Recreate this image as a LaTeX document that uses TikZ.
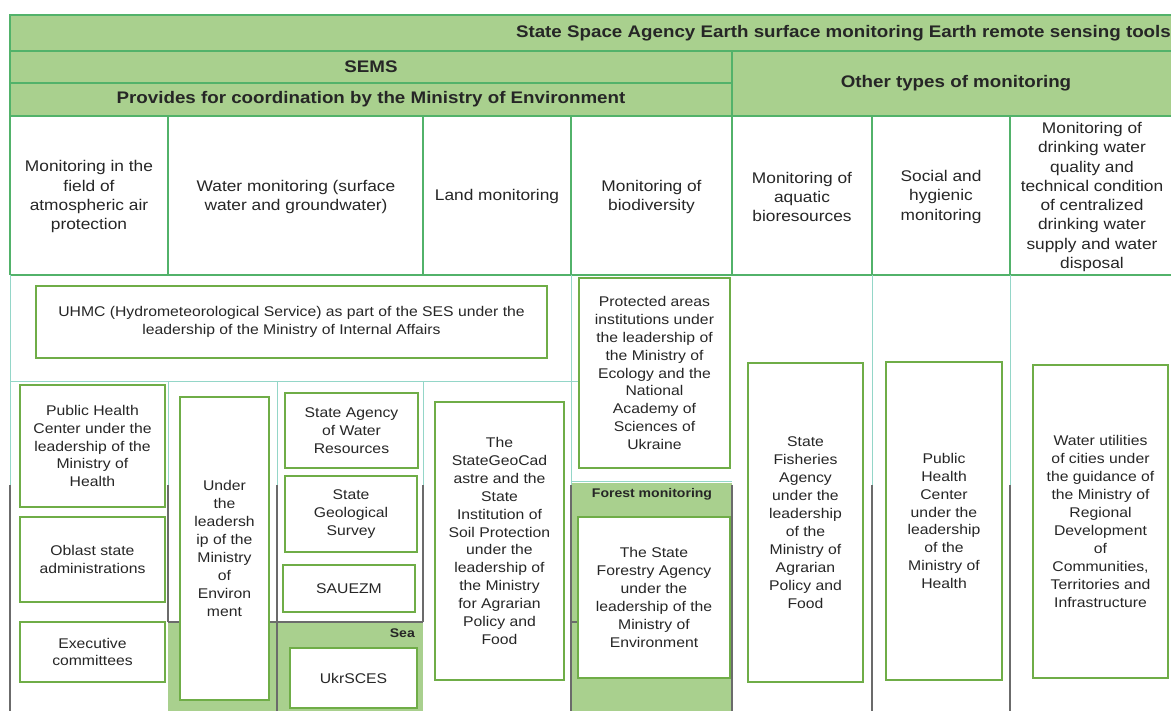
\documentclass[tikz,border=0pt]{standalone}
\usepackage{fontspec}
\setmainfont{Liberation Sans}[FakeStretch=1.12]
\definecolor{bandgreen}{HTML}{A9D08E}
\definecolor{gridgreen}{HTML}{52B26A}
\definecolor{boxgreen}{HTML}{6FAD47}
\definecolor{paleteal}{HTML}{94D6C8}
\definecolor{rulegray}{HTML}{6B6B6B}
\definecolor{inkgray}{HTML}{262626}
\tikzstyle{unit} = [rectangle, draw=boxgreen, line width=1.8pt, fill=white, inner sep=0pt, align=center, text=inkgray, font=\fontsize{12}{15.3}\selectfont]
\tikzstyle{colhead} = [align=center, text=inkgray, font=\fontsize{13.2}{16.5}\selectfont]
\tikzstyle{bandtext} = [text=black!85, font=\fontsize{14.3}{17}\selectfont\bfseries]
\tikzstyle{sublabel} = [text=black!85, font=\fontsize{10.7}{13}\selectfont\bfseries]
\tikzstyle{gridline} = [draw=gridgreen, line width=1.5pt]
\tikzstyle{thinline} = [draw=paleteal, line width=0.8pt]
\tikzstyle{darkline} = [draw=rulegray, line width=1.1pt]

\begin{document}
\begin{tikzpicture}[x=0.03cm, y=-0.03cm]
  \useasboundingbox[fill=white] (0,0) rectangle (1171,711);
  % shaded areas
  \fill[bandgreen] (10,15) rectangle (1185,116);
  \fill[bandgreen] (168,622) rectangle (423,711);
  \fill[bandgreen] (571,483) rectangle (732,711);
  % table rules
  \draw[gridline] (1185,15) -- (10,15) -- (10,275);
  \draw[gridline] (10,51) -- (1185,51);
  \draw[gridline] (10,83) -- (732,83);
  \draw[gridline] (10,116) -- (1185,116);
  \draw[gridline] (10,275) -- (1185,275);
  \draw[gridline] (732,51) -- (732,275);
  \foreach \x in {168,423,571,872,1010}
    \draw[gridline] (\x,116) -- (\x,275);
  \draw[thinline] (10,275) -- (10,485);
  \draw[thinline] (10,381) -- (579,381);
  \foreach \x in {168,277,423} \draw[thinline] (\x,381) -- (\x,485);
  \foreach \x in {571,872,1010} \draw[thinline] (\x,275) -- (\x,485);
  \draw[thinline] (571,481) -- (732,481);
  \foreach \x in {10,277,571,732,872,1010} \draw[darkline] (\x,485) -- (\x,711);
  \foreach \x in {168,423} \draw[darkline] (\x,485) -- (\x,622);
  \draw[darkline, line width=1.6pt] (168,622) -- (423,622);
  \draw[darkline] (571,622) -- (578,622);

  % band titles
  \node (title) [bandtext, anchor=east] at (1175,33) {State Space Agency Earth surface monitoring Earth remote sensing tools};
  \node (sems) [bandtext] at (371,67) {SEMS};
  \node (coord) [bandtext] at (371,99.5) {Provides for coordination by the Ministry of Environment};
  \node (other) [bandtext] at (956,83.5) {Other types of monitoring};

  % column heads
  \node (air) [colhead] at (89,197) {Monitoring in the\\field of\\atmospheric air\\protection};
  \node (water) [colhead] at (296,197) {Water monitoring (surface\\water and groundwater)};
  \node (land) [colhead] at (497,197) {Land monitoring};
  \node (bio) [colhead] at (651.5,197) {Monitoring of\\biodiversity};
  \node (aqua) [colhead] at (802,197) {Monitoring of\\aquatic\\bioresources};
  \node (hyg) [colhead] at (941,197) {Social and\\hygienic\\monitoring};
  \node (drink) [colhead] at (1092,197) {Monitoring of\\drinking water\\quality and\\technical condition\\of centralized\\drinking water\\supply and water\\disposal};

  % bodies
  \node (uhmc) [unit, minimum width=15.33cm, minimum height=2.16cm] at (291.5,322)
    {UHMC (Hydrometeorological Service) as part of the SES under the\\leadership of the Ministry of Internal Affairs};
  \node (reserve) [unit, minimum width=4.53cm, minimum height=5.70cm] at (654.5,373)
    {Protected areas\\institutions under\\the leadership of\\the Ministry of\\Ecology and the\\National\\Academy of\\Sciences of\\Ukraine};
  \node (phc1) [unit, minimum width=4.35cm, minimum height=3.66cm] at (92.5,446)
    {Public Health\\Center under the\\leadership of the\\Ministry of\\Health};
  \node (oblast) [unit, minimum width=4.35cm, minimum height=2.55cm] at (92.5,559.5)
    {Oblast state\\administrations};
  \node (exec) [unit, minimum width=4.35cm, minimum height=1.80cm] at (92.5,652)
    {Executive\\committees};
  \node (minenv) [unit, minimum width=2.67cm, minimum height=9.09cm] at (224.5,548.5)
    {Under\\the\\leadersh\\ip of the\\Ministry\\of\\Environ\\ment};
  \node (sawr) [unit, minimum width=3.99cm, minimum height=2.25cm] at (351.5,430.5)
    {State Agency\\of Water\\Resources};
  \node (geo) [unit, minimum width=3.96cm, minimum height=2.28cm] at (351,514)
    {State\\Geological\\Survey};
  \node (sauezm) [unit, minimum width=3.96cm, minimum height=1.41cm] at (349,588.5) {SAUEZM};
  \node (sea) [sublabel, anchor=east] at (419,633) {Sea};
  \node (ukrsces) [unit, minimum width=3.81cm, minimum height=1.80cm] at (353.5,678) {UkrSCES};
  \node (geocad) [unit, minimum width=3.87cm, minimum height=8.34cm] at (499.5,541)
    {The\\StateGeoCad\\astre and the\\State\\Institution of\\Soil Protection\\under the\\leadership of\\the Ministry\\for Agrarian\\Policy and\\Food};
  \node (forestlbl) [sublabel] at (652,494) {Forest monitoring};
  \node (forest) [unit, minimum width=4.56cm, minimum height=4.83cm] at (654,597.5)
    {The State\\Forestry Agency\\under the\\leadership of the\\Ministry of\\Environment};
  \node (fish) [unit, minimum width=3.45cm, minimum height=9.57cm] at (805.5,522.5)
    {State\\Fisheries\\Agency\\under the\\leadership\\of the\\Ministry of\\Agrarian\\Policy and\\Food};
  \node (phc2) [unit, minimum width=3.48cm, minimum height=9.54cm] at (944,521)
    {Public\\Health\\Center\\under the\\leadership\\of the\\Ministry of\\Health};
  \node (utility) [unit, minimum width=4.05cm, minimum height=9.39cm] at (1100.5,521.5)
    {Water utilities\\of cities under\\the guidance of\\the Ministry of\\Regional\\Development\\of\\Communities,\\Territories and\\Infrastructure};
\end{tikzpicture}
\end{document}
